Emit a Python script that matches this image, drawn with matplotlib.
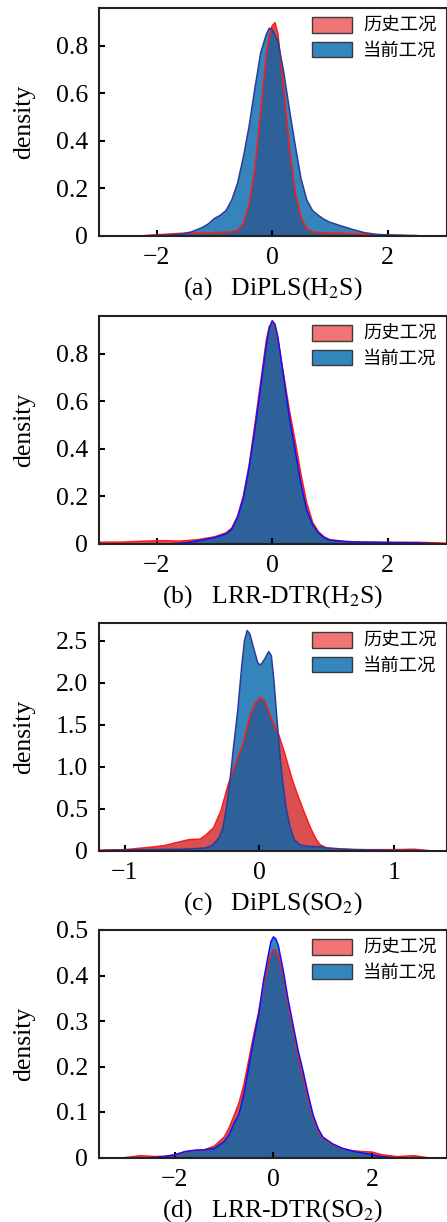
import matplotlib
matplotlib.use("Agg")
import matplotlib.pyplot as plt
from matplotlib.patches import Patch

plt.rcParams['font.family'] = ['Liberation Serif', 'Noto Sans CJK SC']
plt.rcParams['mathtext.fontset'] = 'stix'
plt.rcParams['axes.unicode_minus'] = True

legend_labels = ['历史工况', '当前工况']
captions = ['(a)   DiPLS(H$_2$S)', '(b)   LRR-DTR(H$_2$S)',
            '(c)   DiPLS(SO$_2$)', '(d)   LRR-DTR(SO$_2$)']

# (a) DiPLS(H2S)
a_hist_x = [-2.2, -2.0, -1.8, -1.6, -1.4, -1.2, -1.0, -0.8, -0.7, -0.6, -0.5, -0.4, -0.3, -0.2, -0.1,
            -0.05, 0.0, 0.05, 0.1, 0.2, 0.3, 0.4, 0.5, 0.6, 0.7, 0.8, 1.0, 1.2, 1.5, 2.0, 2.3]
a_hist_y = [0, 0.003, 0.006, 0.009, 0.01, 0.01, 0.012, 0.014, 0.016, 0.022, 0.052, 0.13, 0.282, 0.52, 0.764,
            0.84, 0.885, 0.898, 0.85, 0.623, 0.37, 0.18, 0.076, 0.03, 0.016, 0.013, 0.011, 0.01, 0.006, 0.002, 0]
a_cur_x = [-2.1, -1.8, -1.6, -1.4, -1.2, -1.1, -1.0, -0.9, -0.8, -0.7, -0.6, -0.5, -0.4, -0.3, -0.2, -0.1,
           -0.05, 0.0, 0.1, 0.2, 0.3, 0.4, 0.5, 0.6, 0.7, 0.8, 0.9, 1.0, 1.2, 1.4, 1.6, 1.8, 2.0, 2.5]
a_cur_y = [0, 0.002, 0.005, 0.015, 0.035, 0.05, 0.072, 0.085, 0.105, 0.15, 0.22, 0.33, 0.46, 0.62, 0.77, 0.85,
           0.875, 0.87, 0.82, 0.69, 0.53, 0.38, 0.24, 0.15, 0.105, 0.085, 0.068, 0.056, 0.04, 0.025, 0.012, 0.005,
           0.002, 0]

# (b) LRR-DTR(H2S)
b_hist_x = [-3.1, -2.6, -2.2, -1.9, -1.6, -1.3, -1.0, -0.8, -0.7, -0.6, -0.5, -0.4, -0.3, -0.2, -0.1,
            -0.05, 0.0, 0.05, 0.1, 0.2, 0.3, 0.4, 0.5, 0.6, 0.7, 0.8, 0.9, 1.0, 1.3, 1.6, 2.0, 2.5, 2.85, 3.1]
b_hist_y = [0.005, 0.006, 0.01, 0.012, 0.01, 0.016, 0.028, 0.045, 0.065, 0.115, 0.2, 0.33, 0.50, 0.68, 0.86,
            0.915, 0.93, 0.915, 0.86, 0.71, 0.56, 0.43, 0.29, 0.17, 0.09, 0.05, 0.028, 0.016, 0.008, 0.006, 0.005,
            0.005, 0.003, 0]
b_cur_x = [-1.7, -1.5, -1.2, -1.0, -0.8, -0.7, -0.6, -0.5, -0.4, -0.3, -0.2, -0.1, -0.05, 0.0, 0.05, 0.1,
           0.2, 0.3, 0.4, 0.5, 0.6, 0.7, 0.8, 0.9, 1.0, 1.2, 1.5, 2.0, 2.5, 2.8]
b_cur_y = [0, 0.003, 0.015, 0.025, 0.04, 0.06, 0.11, 0.19, 0.32, 0.48, 0.66, 0.84, 0.91, 0.94, 0.925, 0.87,
           0.70, 0.53, 0.39, 0.25, 0.14, 0.08, 0.045, 0.025, 0.014, 0.009, 0.006, 0.004, 0.003, 0]

# (c) DiPLS(SO2)
c_hist_x = [-1.2, -1.0, -0.9, -0.8, -0.7, -0.6, -0.52, -0.44, -0.4, -0.34, -0.285, -0.23, -0.17, -0.12,
            -0.07, -0.03, 0.01, 0.04, 0.07, 0.1, 0.14, 0.19, 0.24, 0.28, 0.33, 0.38, 0.42, 0.45, 0.5, 0.6,
            0.8, 1.0, 1.15, 1.25]
c_hist_y = [0.005, 0.01, 0.025, 0.04, 0.06, 0.10, 0.13, 0.135, 0.18, 0.27, 0.47, 0.79, 1.06, 1.27,
            1.60, 1.76, 1.82, 1.78, 1.66, 1.52, 1.40, 1.15, 0.87, 0.68, 0.47, 0.27, 0.14, 0.07, 0.03, 0.015,
            0.01, 0.01, 0.015, 0]
c_cur_x = [-1.15, -0.9, -0.6, -0.5, -0.4, -0.35, -0.3, -0.27, -0.24, -0.215, -0.19, -0.16, -0.13, -0.11,
           -0.09, -0.07, -0.04, -0.01, 0.01, 0.04, 0.07, 0.09, 0.11, 0.126, 0.15, 0.17, 0.2, 0.23, 0.26, 0.3,
           0.35, 0.45, 0.5, 0.6, 0.7, 0.9, 1.2]
c_cur_y = [0, 0.01, 0.015, 0.02, 0.03, 0.06, 0.15, 0.27, 0.55, 0.87, 1.25, 1.67, 2.2, 2.5,
           2.62, 2.58, 2.40, 2.23, 2.21, 2.28, 2.37, 2.32, 2.0, 1.67, 1.2, 0.87, 0.5, 0.27, 0.13, 0.07,
           0.05, 0.045, 0.03, 0.02, 0.01, 0.005, 0]

# (d) LRR-DTR(SO2)
d_hist_x = [-3.0, -2.7, -2.4, -2.2, -2.0, -1.8, -1.6, -1.4, -1.2, -1.0, -0.9, -0.8, -0.7, -0.6, -0.5, -0.4,
            -0.3, -0.2, -0.1, -0.05, 0.0, 0.05, 0.1, 0.2, 0.3, 0.4, 0.5, 0.6, 0.7, 0.8, 0.9, 1.0, 1.2, 1.4,
            1.6, 1.8, 2.0, 2.2, 2.5, 2.85, 3.1]
d_hist_y = [0, 0.004, 0.002, 0.003, 0.006, 0.012, 0.015, 0.017, 0.025, 0.045, 0.065, 0.092, 0.12, 0.16, 0.215,
            0.27, 0.32, 0.38, 0.428, 0.448, 0.457, 0.455, 0.443, 0.40, 0.335, 0.28, 0.225, 0.18, 0.13, 0.09,
            0.06, 0.043, 0.028, 0.02, 0.015, 0.013, 0.012, 0.006, 0.002, 0.004, 0]
d_cur_x = [-2.5, -2.2, -2.0, -1.8, -1.6, -1.4, -1.2, -1.0, -0.9, -0.8, -0.7, -0.6, -0.5, -0.4, -0.3, -0.2,
           -0.1, -0.05, 0.0, 0.05, 0.1, 0.2, 0.3, 0.4, 0.5, 0.6, 0.7, 0.8, 0.9, 1.0, 1.2, 1.4, 1.6, 1.8, 2.0,
           2.2, 2.4]
d_cur_y = [0, 0.002, 0.006, 0.013, 0.016, 0.017, 0.02, 0.035, 0.05, 0.075, 0.095, 0.14, 0.2, 0.26, 0.315, 0.39,
           0.448, 0.475, 0.485, 0.48, 0.465, 0.41, 0.345, 0.29, 0.235, 0.19, 0.14, 0.095, 0.065, 0.045, 0.03,
           0.02, 0.014, 0.01, 0.006, 0.002, 0]

xticks_a = [-2, 0, 2]
xticks_c = [-1, 0, 1]
xticklabels_a = ['\u22122', '0', '2']
xticklabels_c = ['\u22121', '0', '1']
yticks_a = [0, 0.2, 0.4, 0.6, 0.8]
yticklabels_a = ['0', '0.2', '0.4', '0.6', '0.8']
yticks_c = [0, 0.5, 1.0, 1.5, 2.0, 2.5]
yticklabels_c = ['0', '0.5', '1.0', '1.5', '2.0', '2.5']
yticks_d = [0, 0.1, 0.2, 0.3, 0.4, 0.5]
yticklabels_d = ['0', '0.1', '0.2', '0.3', '0.4', '0.5']

panels = [
    (a_hist_x, a_hist_y, a_cur_x, a_cur_y, (-3.0, 3.02), (0, 0.96), xticks_a, xticklabels_a, yticks_a, yticklabels_a, '#2b3d99'),
    (b_hist_x, b_hist_y, b_cur_x, b_cur_y, (-3.0, 3.02), (0, 0.96), xticks_a, xticklabels_a, yticks_a, yticklabels_a, '#1010ff'),
    (c_hist_x, c_hist_y, c_cur_x, c_cur_y, (-1.19, 1.39), (0, 2.71), xticks_c, xticklabels_c, yticks_c, yticklabels_c, '#2b3d99'),
    (d_hist_x, d_hist_y, d_cur_x, d_cur_y, (-3.54, 3.51), (0, 0.5), xticks_a, xticklabels_a, yticks_d, yticklabels_d, '#1010ff'),
]

W, H = 447, 1222
fig = plt.figure(figsize=(W / 100, H / 100), dpi=100)
tops = [8, 316, 623, 930]
ax_h = 227.5
fs = 18.5

red_face = '#da5050'
blue_face = (3 / 255, 102 / 255, 172 / 255, 0.8)

for i, (hx, hy, cx, cy, xlim, ylim, xt, xtl, yt, ytl, blue_edge) in enumerate(panels):
    ax = fig.add_axes([99 / W, (H - tops[i] - ax_h) / H, 347.5 / W, ax_h / H])
    ax.fill_between(hx, hy, 0, facecolor=red_face, edgecolor='none')
    ax.plot(hx, hy, color='#ff1a1a', lw=1.1)
    ax.fill_between(cx, cy, 0, facecolor=blue_face, edgecolor='none')
    ax.plot(cx, cy, color=blue_edge, lw=1.1)

    ax.set_xlim(*xlim)
    ax.set_ylim(*ylim)
    ax.set_xticks(xt)
    ax.set_xticklabels(xtl)
    ax.set_yticks(yt)
    ax.set_yticklabels(ytl)
    ax.tick_params(direction='in', length=4, width=1.5, labelsize=fs, color='black')
    ax.tick_params(axis='y', pad=8)
    ax.tick_params(axis='x', pad=8)
    for sp in ax.spines.values():
        sp.set_linewidth(1.5)
        sp.set_color('#222222')

    ax.set_ylabel('density', fontsize=fs)
    ax.yaxis.set_label_coords(-0.185, 0.5)

    ax.text(0.5, -0.232, captions[i], transform=ax.transAxes, ha='center', va='center', fontsize=fs)

    handles = [Patch(facecolor='#f07474', edgecolor='#3a3a3a', lw=1.0),
               Patch(facecolor='#3486bf', edgecolor='#3a3a3a', lw=1.0)]
    ax.legend(handles, legend_labels, loc='upper right', bbox_to_anchor=(1 - 10 / 347, 1 - 9 / 228),
              frameon=False, borderpad=0, borderaxespad=0, handlelength=2.2, handleheight=0.95,
              handletextpad=0.6, labelspacing=0.35,
              prop={'family': ['Noto Sans CJK SC'], 'size': 13.2})

fig.savefig('out.png', dpi=100)
